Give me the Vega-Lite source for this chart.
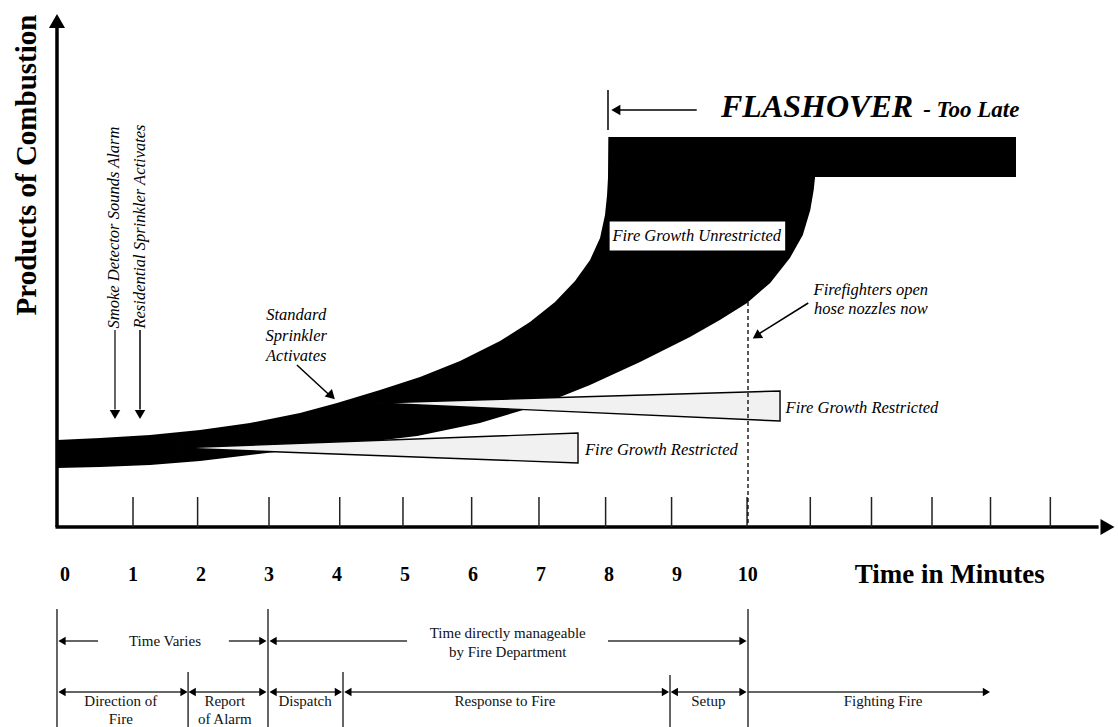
{
 "$schema": "https://vega.github.io/schema/vega-lite/v6.json",
 "width": 1118, "height": 727, "padding": 0, "autosize": {"type": "none"},
 "background": "white",
 "config": {"view": {"stroke": null}},
 "datasets": {
  "bandTop": [
   {"t":-0.118,"y":17.4},{"t":0.515,"y":17.8},{"t":1.25,"y":18.4},{"t":1.985,"y":19.4},{"t":2.72,"y":20.8},{"t":3.456,"y":22.8},{"t":4.0,"y":24.8},{"t":4.632,"y":27.4},{"t":5.221,"y":30},{"t":5.809,"y":33.2},{"t":6.397,"y":37.2},{"t":6.838,"y":41},{"t":7.206,"y":45},{"t":7.5,"y":49.2},{"t":7.721,"y":53.4},{"t":7.868,"y":57.8},{"t":7.941,"y":62.4},{"t":7.971,"y":66.4},{"t":7.985,"y":69.8},{"t":7.99,"y":78},{"t":13.985,"y":78}
  ],
  "bandBottom": [
   {"t":-0.118,"y":11.8},{"t":0.515,"y":12},{"t":1.25,"y":12.4},{"t":1.985,"y":13.2},{"t":2.72,"y":14.4},{"t":3.456,"y":15.6},{"t":4.19,"y":16.6},{"t":5.18,"y":18.2},{"t":6.1,"y":20.8},{"t":6.985,"y":24.4},{"t":7.72,"y":28.4},{"t":8.456,"y":33},{"t":9.19,"y":38},{"t":9.63,"y":41.4},{"t":10.03,"y":44.8},{"t":10.37,"y":48.8},{"t":10.66,"y":53.8},{"t":10.85,"y":58.4},{"t":10.96,"y":63.4},{"t":11.01,"y":67.4},{"t":11.03,"y":70},{"t":14.05,"y":70}
  ],
  "cones": [
   {"cone":"low","t":1.618,"y":15.8,"y2":15.8},{"cone":"low","t":7.544,"y":18.8,"y2":12.8},
   {"cone":"high","t":4.56,"y":24.8,"y2":24.8},{"cone":"high","t":10.515,"y":27.2,"y2":21.2}
  ],
  "box": [{"t":8.0,"t2":10.6,"y":61.2,"y2":55.2}],
  "lines": [
   {"kind":"axis","t":-0.118,"y":0,"t2":-0.118,"y2":100},
   {"kind":"axis","t":-0.14,"y":0,"t2":15.2,"y2":0},
   {"kind":"tick","t":1.0,"y":0,"t2":1.0,"y2":6},
   {"kind":"tick","t":1.95,"y":0,"t2":1.95,"y2":6},
   {"kind":"tick","t":3.0,"y":0,"t2":3.0,"y2":6},
   {"kind":"tick","t":4.04,"y":0,"t2":4.04,"y2":6},
   {"kind":"tick","t":4.97,"y":0,"t2":4.97,"y2":6},
   {"kind":"tick","t":5.98,"y":0,"t2":5.98,"y2":6},
   {"kind":"tick","t":6.97,"y":0,"t2":6.97,"y2":6},
   {"kind":"tick","t":7.95,"y":0,"t2":7.95,"y2":6},
   {"kind":"tick","t":8.92,"y":0,"t2":8.92,"y2":6},
   {"kind":"tick","t":10.03,"y":0,"t2":10.03,"y2":6},
   {"kind":"tick","t":10.96,"y":0,"t2":10.96,"y2":6},
   {"kind":"tick","t":11.86,"y":0,"t2":11.86,"y2":6},
   {"kind":"tick","t":12.75,"y":0,"t2":12.75,"y2":6},
   {"kind":"tick","t":13.61,"y":0,"t2":13.61,"y2":6},
   {"kind":"tick","t":14.49,"y":0,"t2":14.49,"y2":6},
   {"kind":"thin","t":7.985,"y":87.4,"t2":7.985,"y2":79.4},
   {"kind":"thin","t":8.12,"y":83.4,"t2":9.29,"y2":83.4},
   {"kind":"thin","t":3.41,"y":32.4,"t2":3.92,"y2":26},
   {"kind":"thin","t":10.93,"y":44.8,"t2":10.2,"y2":38.6},
   {"kind":"thin","t":1.103,"y":39.4,"t2":1.103,"y2":23.5},
   {"kind":"gray","t":0.735,"y":39.4,"t2":0.735,"y2":23.5},
   {"kind":"dash","t":10.044,"y":45,"t2":10.044,"y2":0},
   {"kind":"tl","t":-0.118,"y":-16.4,"t2":-0.118,"y2":-40},
   {"kind":"tl","t":2.985,"y":-16.4,"t2":2.985,"y2":-40},
   {"kind":"tl","t":10.044,"y":-16.4,"t2":10.044,"y2":-40},
   {"kind":"tl","t":1.81,"y":-29,"t2":1.81,"y2":-40},
   {"kind":"tl","t":4.088,"y":-29,"t2":4.088,"y2":-40},
   {"kind":"tl","t":8.897,"y":-29.6,"t2":8.897,"y2":-40},
   {"kind":"tl","t":-0.05,"y":-22.8,"t2":0.485,"y2":-22.8},
   {"kind":"tl","t":2.41,"y":-22.8,"t2":2.92,"y2":-22.8},
   {"kind":"tl","t":3.05,"y":-22.8,"t2":5.03,"y2":-22.8},
   {"kind":"tl","t":7.985,"y":-22.8,"t2":9.95,"y2":-22.8},
   {"kind":"tl","t":-0.05,"y":-33,"t2":1.75,"y2":-33},
   {"kind":"tl","t":1.87,"y":-33,"t2":2.92,"y2":-33},
   {"kind":"tl","t":3.05,"y":-33,"t2":4.02,"y2":-33},
   {"kind":"tl","t":4.16,"y":-33,"t2":8.83,"y2":-33},
   {"kind":"tl","t":8.96,"y":-33,"t2":9.97,"y2":-33},
   {"kind":"tl","t":10.044,"y":-33,"t2":13.5,"y2":-33}
  ],
  "heads": [
   {"kind":"axis","t":-0.118,"y":101.2,"dir":"up"},
   {"kind":"axis","t":15.33,"y":0,"dir":"right"},
   {"kind":"mid","t":0.735,"y":22.5,"dir":"down"},
   {"kind":"mid","t":1.103,"y":22.5,"dir":"down"},
   {"kind":"mid","t":8.1,"y":83.4,"dir":"left"},
   {"kind":"se","t":3.92,"y":26.2,"dir":"se"},
   {"kind":"sw","t":10.17,"y":38.2,"dir":"sw"},
   {"kind":"small","t":-0.044,"y":-22.8,"dir":"left"},
   {"kind":"small","t":2.91,"y":-22.8,"dir":"right"},
   {"kind":"small","t":3.06,"y":-22.8,"dir":"left"},
   {"kind":"small","t":9.97,"y":-22.8,"dir":"right"},
   {"kind":"small","t":-0.044,"y":-33,"dir":"left"},
   {"kind":"small","t":1.75,"y":-33,"dir":"right"},
   {"kind":"small","t":1.87,"y":-33,"dir":"left"},
   {"kind":"small","t":2.91,"y":-33,"dir":"right"},
   {"kind":"small","t":3.06,"y":-33,"dir":"left"},
   {"kind":"small","t":4.02,"y":-33,"dir":"right"},
   {"kind":"small","t":4.16,"y":-33,"dir":"left"},
   {"kind":"small","t":8.83,"y":-33,"dir":"right"},
   {"kind":"small","t":8.96,"y":-33,"dir":"left"},
   {"kind":"small","t":9.97,"y":-33,"dir":"right"},
   {"kind":"small","t":13.55,"y":-33,"dir":"right"}
  ],
  "labels": [
   {"kind":"tick","t":0,"y":-9.6,"text":"0"},
   {"kind":"tick","t":1,"y":-9.6,"text":"1"},
   {"kind":"tick","t":2,"y":-9.6,"text":"2"},
   {"kind":"tick","t":3,"y":-9.6,"text":"3"},
   {"kind":"tick","t":4,"y":-9.6,"text":"4"},
   {"kind":"tick","t":5,"y":-9.6,"text":"5"},
   {"kind":"tick","t":6,"y":-9.6,"text":"6"},
   {"kind":"tick","t":7,"y":-9.6,"text":"7"},
   {"kind":"tick","t":8,"y":-9.6,"text":"8"},
   {"kind":"tick","t":9,"y":-9.6,"text":"9"},
   {"kind":"tick","t":10.04,"y":-9.6,"text":"10"},
   {"kind":"xtitle","t":13.01,"y":-9.6,"text":"Time in Minutes"},
   {"kind":"ytitle","t":-0.42,"y":72.4,"text":"Products of Combustion"},
   {"kind":"flash","t":9.647,"y":82,"text":"FLASHOVER"},
   {"kind":"late","t":12.62,"y":82,"text":"- Too Late"},
   {"kind":"vnote","t":0.80,"y":59.9,"text":"Smoke Detector Sounds Alarm"},
   {"kind":"vnote","t":1.18,"y":60.1,"text":"Residential Sprinkler Activates"},
   {"kind":"note","t":3.40,"y":42.4,"text":"Standard"},
   {"kind":"note","t":3.40,"y":38.2,"text":"Sprinkler"},
   {"kind":"note","t":3.40,"y":34.2,"text":"Activates"},
   {"kind":"note","t":11.85,"y":47.4,"text":"Firefighters open"},
   {"kind":"note","t":11.85,"y":43.6,"text":"hose nozzles now"},
   {"kind":"note","t":9.29,"y":58.2,"text":"Fire Growth Unrestricted"},
   {"kind":"note","t":11.72,"y":23.8,"text":"Fire Growth Restricted"},
   {"kind":"note","t":8.77,"y":15.4,"text":"Fire Growth Restricted"},
   {"kind":"time","t":1.47,"y":-22.8,"text":"Time Varies"},
   {"kind":"time","t":6.51,"y":-21.2,"text":"Time directly manageable"},
   {"kind":"time","t":6.51,"y":-25,"text":"by Fire Department"},
   {"kind":"time","t":0.82,"y":-34.8,"text":"Direction of"},
   {"kind":"time","t":0.82,"y":-38.3,"text":"Fire"},
   {"kind":"time","t":2.35,"y":-34.8,"text":"Report"},
   {"kind":"time","t":2.35,"y":-38.3,"text":"of Alarm"},
   {"kind":"time","t":3.53,"y":-34.8,"text":"Dispatch"},
   {"kind":"time","t":6.47,"y":-34.8,"text":"Response to Fire"},
   {"kind":"time","t":9.46,"y":-34.8,"text":"Setup"},
   {"kind":"time","t":12.03,"y":-34.8,"text":"Fighting Fire"}
  ]
 },
 "encoding": {
  "x": {"field": "t", "type": "quantitative", "scale": {"domain": [-0.956, 15.485], "nice": false, "zero": false}, "axis": null},
  "y": {"field": "y", "type": "quantitative", "scale": {"domain": [-40, 105.4], "nice": false, "zero": false}, "axis": null}
 },
 "layer": [
  {"data": {"name": "bandTop"}, "mark": {"type": "area", "orient": "vertical", "color": "black", "opacity": 1}, "encoding": {"y2": {"datum": 0}}},
  {"data": {"name": "bandBottom"}, "mark": {"type": "area", "orient": "vertical", "color": "white", "opacity": 1}, "encoding": {"y2": {"datum": -1}}},
  {"data": {"name": "cones"}, "mark": {"type": "area", "orient": "vertical", "fill": "#f1f1f1", "stroke": "black", "strokeWidth": 1.4, "opacity": 1}, "encoding": {"y2": {"field": "y2"}, "detail": {"field": "cone"}}},
  {"data": {"name": "lines"}, "transform": [{"filter": "datum.kind === 'axis'"}], "mark": {"type": "rule", "color": "black", "strokeWidth": 3.5}, "encoding": {"x2": {"field": "t2"}, "y2": {"field": "y2"}}},
  {"data": {"name": "lines"}, "transform": [{"filter": "datum.kind === 'tick'"}], "mark": {"type": "rule", "color": "#222", "strokeWidth": 1.5}, "encoding": {"x2": {"field": "t2"}, "y2": {"field": "y2"}}},
  {"data": {"name": "lines"}, "transform": [{"filter": "datum.kind === 'thin'"}], "mark": {"type": "rule", "color": "black", "strokeWidth": 1.5}, "encoding": {"x2": {"field": "t2"}, "y2": {"field": "y2"}}},
  {"data": {"name": "lines"}, "transform": [{"filter": "datum.kind === 'gray'"}], "mark": {"type": "rule", "color": "#555", "strokeWidth": 1.8}, "encoding": {"x2": {"field": "t2"}, "y2": {"field": "y2"}}},
  {"data": {"name": "lines"}, "transform": [{"filter": "datum.kind === 'dash'"}], "mark": {"type": "rule", "color": "black", "strokeWidth": 1.3, "strokeDash": [4, 3]}, "encoding": {"x2": {"field": "t2"}, "y2": {"field": "y2"}}},
  {"data": {"name": "lines"}, "transform": [{"filter": "datum.kind === 'tl'"}], "mark": {"type": "rule", "color": "#333", "strokeWidth": 1.5}, "encoding": {"x2": {"field": "t2"}, "y2": {"field": "y2"}}},
  {"data": {"name": "heads"}, "transform": [{"filter": "datum.kind === 'axis'"}], "mark": {"type": "point", "filled": true, "color": "black", "opacity": 1, "size": 260}, "encoding": {"shape": {"field": "dir", "type": "nominal", "scale": {"domain": ["up", "down", "left", "right"], "range": ["triangle-up", "triangle-down", "triangle-left", "triangle-right"]}, "legend": null}}},
  {"data": {"name": "heads"}, "transform": [{"filter": "datum.kind === 'mid'"}], "mark": {"type": "point", "filled": true, "color": "black", "opacity": 1, "size": 110}, "encoding": {"shape": {"field": "dir", "type": "nominal", "scale": {"domain": ["up", "down", "left", "right"], "range": ["triangle-up", "triangle-down", "triangle-left", "triangle-right"]}, "legend": null}}},
  {"data": {"name": "heads"}, "transform": [{"filter": "datum.kind === 'small'"}], "mark": {"type": "point", "filled": true, "color": "black", "opacity": 1, "size": 70}, "encoding": {"shape": {"field": "dir", "type": "nominal", "scale": {"domain": ["up", "down", "left", "right"], "range": ["triangle-up", "triangle-down", "triangle-left", "triangle-right"]}, "legend": null}}},
  {"data": {"name": "heads"}, "transform": [{"filter": "datum.kind === 'se'"}], "mark": {"type": "point", "filled": true, "color": "black", "opacity": 1, "size": 110, "shape": "triangle-up", "angle": 134}},
  {"data": {"name": "heads"}, "transform": [{"filter": "datum.kind === 'sw'"}], "mark": {"type": "point", "filled": true, "color": "black", "opacity": 1, "size": 110, "shape": "triangle-up", "angle": 237}},
  {"data": {"name": "box"}, "mark": {"type": "rect", "fill": "white", "stroke": "black", "strokeWidth": 1.2}, "encoding": {"x2": {"field": "t2"}, "y2": {"field": "y2"}}},
  {"data": {"name": "labels"}, "transform": [{"filter": "datum.kind === 'tick'"}], "mark": {"type": "text", "font": "Liberation Serif", "fontWeight": "bold", "fontSize": 20, "align": "center", "baseline": "middle", "color": "black"}, "encoding": {"text": {"field": "text"}}},
  {"data": {"name": "labels"}, "transform": [{"filter": "datum.kind === 'xtitle'"}], "mark": {"type": "text", "font": "Liberation Serif", "fontWeight": "bold", "fontSize": 27, "align": "center", "baseline": "middle", "color": "black"}, "encoding": {"text": {"field": "text"}}},
  {"data": {"name": "labels"}, "transform": [{"filter": "datum.kind === 'ytitle'"}], "mark": {"type": "text", "font": "Liberation Serif", "fontWeight": "bold", "fontSize": 29, "align": "center", "baseline": "alphabetic", "angle": 270, "color": "black"}, "encoding": {"text": {"field": "text"}}},
  {"data": {"name": "labels"}, "transform": [{"filter": "datum.kind === 'flash'"}], "mark": {"type": "text", "font": "Liberation Serif", "fontWeight": "bold", "fontStyle": "italic", "fontSize": 32, "align": "left", "baseline": "alphabetic", "color": "black"}, "encoding": {"text": {"field": "text"}}},
  {"data": {"name": "labels"}, "transform": [{"filter": "datum.kind === 'late'"}], "mark": {"type": "text", "font": "Liberation Serif", "fontWeight": "bold", "fontStyle": "italic", "fontSize": 23, "align": "left", "baseline": "alphabetic", "color": "black"}, "encoding": {"text": {"field": "text"}}},
  {"data": {"name": "labels"}, "transform": [{"filter": "datum.kind === 'vnote'"}], "mark": {"type": "text", "font": "Liberation Serif", "fontStyle": "italic", "fontSize": 16.5, "align": "center", "baseline": "alphabetic", "angle": 270, "color": "black"}, "encoding": {"text": {"field": "text"}}},
  {"data": {"name": "labels"}, "transform": [{"filter": "datum.kind === 'note'"}], "mark": {"type": "text", "font": "Liberation Serif", "fontStyle": "italic", "fontSize": 16.5, "align": "center", "baseline": "middle", "color": "black"}, "encoding": {"text": {"field": "text"}}},
  {"data": {"name": "labels"}, "transform": [{"filter": "datum.kind === 'time'"}], "mark": {"type": "text", "font": "Liberation Serif", "fontSize": 15, "align": "center", "baseline": "middle", "color": "#111"}, "encoding": {"text": {"field": "text"}}}
 ]
}
